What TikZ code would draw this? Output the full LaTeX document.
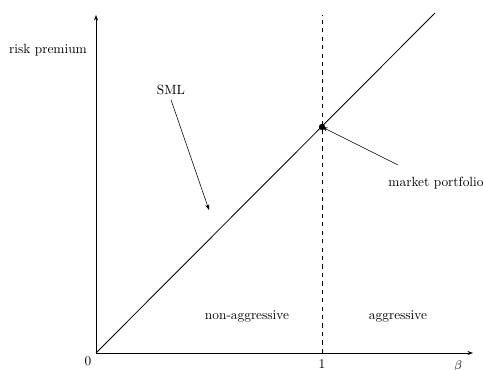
\documentclass[tikz,border=0pt]{standalone}
\usepackage{tikz}
\usetikzlibrary{calc}
\usetikzlibrary{arrows.meta}
\begin{document}
\begin{tikzpicture}[every node/.style={font=\fontsize{9.5}{11}\selectfont},
  arr/.style={-{Stealth[length=1.4mm,width=1mm]}}]
\useasboundingbox (-2.4,-0.425) rectangle (9.675,8.825);

%%%%%%%%%%%%%%%%%%%%%%%%%%%%%%%%%%%%%%%%%%%%%%%%%%%%%%%%%%%%%% axes
\coordinate (O) at (0,0);
\coordinate (Xend) at (9.425,0);
\coordinate (Yend) at (0,8.45);

\draw[arr] (O) -- (Xend);
\draw[arr] (O) -- (Yend);

\node (zero) at (-0.2,-0.2) {0};
\node[anchor=north] (one) at (5.65,-0.05) {1};
\node (beta) at (9.05,-0.33) {$\beta$};
\node (rp) at (-1.2,7.575) {risk premium};

%%%%%%%%%%%%%%%%%%%%%%%%%%%%%%%%%%%%%%%%%%%%%%%%%%%%%%%%%%%%%% SML
\coordinate (M) at (5.65,5.65);
\coordinate (Lend) at (8.475,8.5);
\coordinate (Dtop) at (5.65,8.45);
\coordinate (Dbot) at (5.65,0);

\draw[dashed] (Dbot) -- (Dtop);
\draw[semithick] (O) -- (Lend);
\draw[fill=black] (M) circle (0.07cm);

\node (sml) at (1.875,6.575) {SML};
\coordinate (smlhead) at (2.825,3.575);
\draw[arr] (sml.south) -- (smlhead);

\node (mkt) at (8.5,4.25) {market portfolio};
\coordinate (mkttail) at (7.55,4.7);
\draw[arr] (mkttail) -- (M);

\node (nonagg) at (3.775,0.925) {non-aggressive};
\node (agg) at (7.55,0.925) {aggressive};

\end{tikzpicture}
\end{document}
